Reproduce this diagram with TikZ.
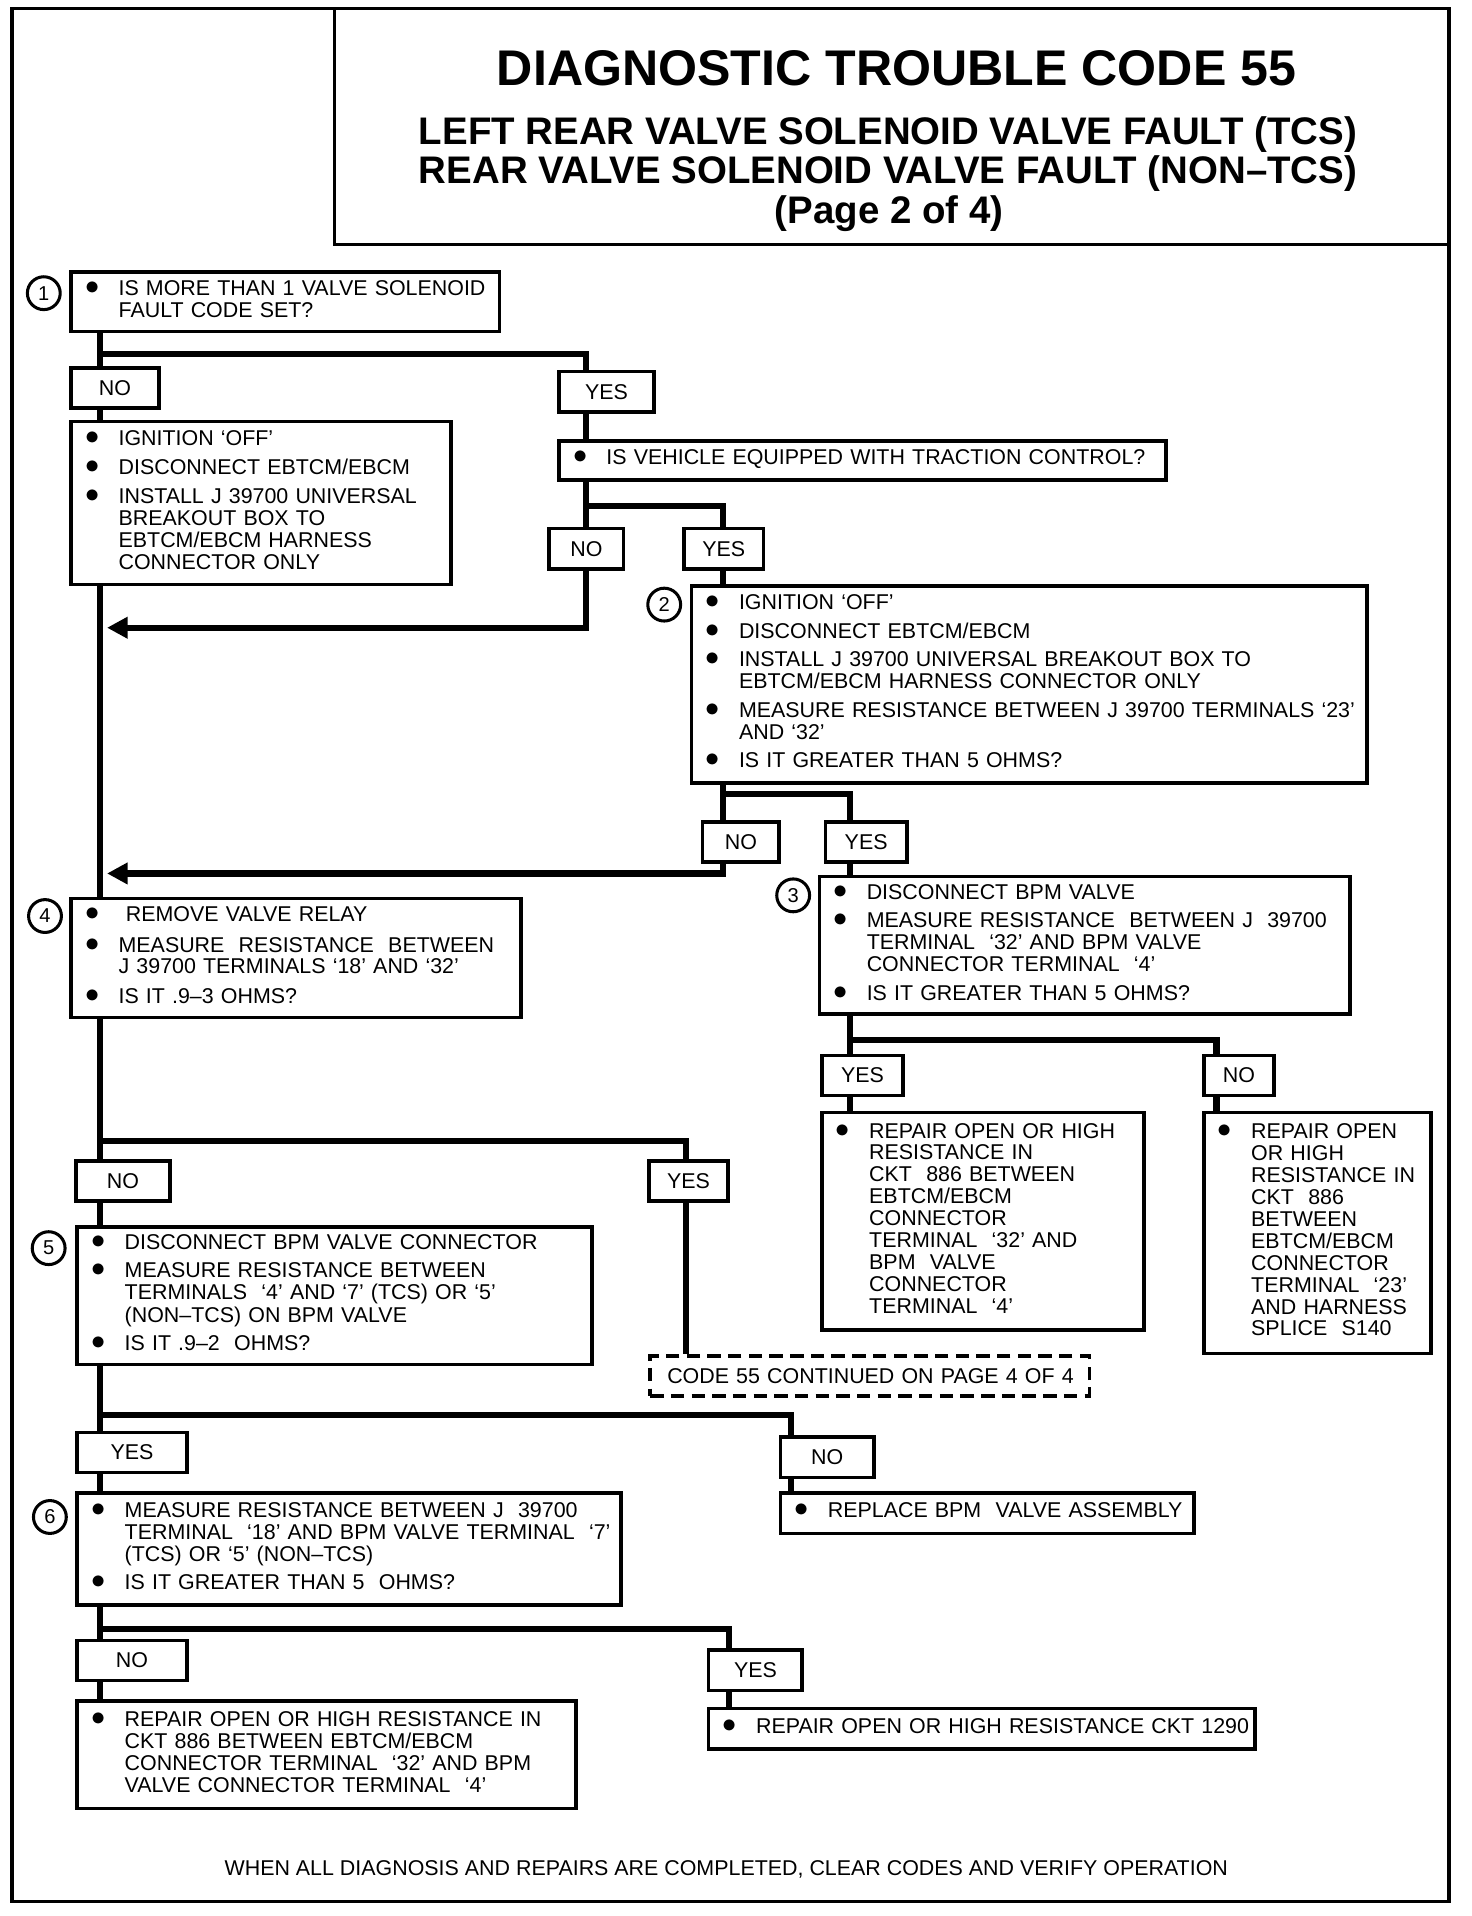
\documentclass[tikz,border=0pt]{standalone}
\usepackage{fontspec}
\setmainfont{Liberation Sans}
\usepackage{tikz}
\usetikzlibrary{positioning,arrows.meta}

\newlength{\bulw}
\setlength{\bulw}{26.3pt}
\newcommand{\bodyfont}{\fontsize{17.6}{18}\selectfont}
\newcommand{\titlefont}{\fontsize{41.2}{41}\selectfont\bfseries}
\newcommand{\subfont}{\fontsize{31.6}{32}\selectfont\bfseries}
\newcommand{\itm}{\makebox[\bulw][l]{\hspace{-1pt}\raisebox{0.8pt}{\scalebox{1.35}{$\bullet$}}}}
\newcommand{\stepitems}[1]{\begin{tabular}{@{}l@{}l@{}}#1\end{tabular}}

\begin{document}
\begin{tikzpicture}[x=1pt,y=-1pt,
	stepbox/.style={draw,line width=3pt,anchor=north west,inner xsep=12.7pt,inner ysep=0pt,align=left,font=\bodyfont},
	choice/.style={draw,line width=3pt,anchor=north west,inner sep=0pt,minimum height=33pt,font=\bodyfont},
	stepnum/.style={circle,draw,line width=2.5pt,minimum size=27pt,inner sep=0pt,font=\fontsize{16.5}{16}\selectfont},
	contbox/.style={draw,line width=3pt,dash pattern=on 11pt off 6pt,anchor=north west,inner xsep=14pt,inner ysep=0pt,minimum height=33pt,align=left,font=\bodyfont},
	conn/.style={line width=5pt},
	back/.style={conn,-{Triangle[length=17pt,width=17pt]}}]
	\useasboundingbox (0,0) rectangle (1210,1575);
	\draw[line width=3pt] (10,7) rectangle (1191,1563);
	\draw[line width=3pt] (275,7) rectangle (1191,201);

	\node[anchor=base,font=\titlefont] (title) at (737,70) {DIAGNOSTIC TROUBLE CODE 55};
	\node[anchor=base,font=\subfont] (sub1) at (730,119) {LEFT REAR VALVE SOLENOID VALVE FAULT (TCS)};
	\node[anchor=base,font=\subfont] (sub2) at (730,151) {REAR VALVE SOLENOID VALVE FAULT (NON--TCS)};
	\node[anchor=base,font=\subfont] (page) at (731,184) {(Page 2 of 4)};

	\node[stepbox,text width=326.6pt,minimum height=49pt] (q1) at (57,222) {\stepitems{\itm & IS MORE THAN 1 VALVE SOLENOID\\ & FAULT CODE SET?}};
	\node[stepnum] (c1) at (36,241) {1};
	\node[choice,minimum width=72pt] (no1) at (57,301) {NO};
	\node[choice,minimum width=78pt] (yes1) at (458,304) {YES};
	\node[stepbox,text width=286.6pt,minimum height=134pt] (ign1) at (57,345) {\stepitems{\itm & IGNITION `OFF'\\[5.5pt] \itm & DISCONNECT EBTCM/EBCM\\[5.5pt] \itm & INSTALL J 39700 UNIVERSAL\\ & BREAKOUT BOX TO\\ & EBTCM/EBCM HARNESS\\ & CONNECTOR ONLY}};
	\node[stepbox,text width=473.6pt,minimum height=32pt] (veh) at (458,361) {\stepitems{\itm & IS VEHICLE EQUIPPED WITH TRACTION CONTROL?}};
	\node[choice,minimum width=61pt] (no2) at (450,433) {NO};
	\node[choice,minimum width=65pt] (yes2) at (561,433) {YES};
	\node[stepbox,text width=529.6pt,minimum height=162pt] (q2) at (567,480) {\stepitems{\itm & IGNITION `OFF'\\[5.5pt] \itm & DISCONNECT EBTCM/EBCM\\[5.5pt] \itm & INSTALL J 39700 UNIVERSAL BREAKOUT BOX TO\\ & EBTCM/EBCM HARNESS CONNECTOR ONLY\\[5.5pt] \itm & MEASURE RESISTANCE BETWEEN J 39700 TERMINALS `23'\\ & AND `32'\\[5.5pt] \itm & IS IT GREATER THAN 5 OHMS?}};
	\node[stepnum] (c2) at (546,497) {2};
	\node[choice,minimum width=63pt] (no3) at (576,674) {NO};
	\node[choice,minimum width=67pt] (yes3) at (677,674) {YES};
	\node[stepbox,text width=410.6pt,minimum height=113pt] (q3) at (672,719) {\stepitems{\itm & DISCONNECT BPM VALVE\\[5.5pt] \itm & MEASURE RESISTANCE\ \ BETWEEN J\ \ 39700\\ & TERMINAL\ \ `32' AND BPM VALVE\\ & CONNECTOR TERMINAL\ \ `4'\\[5.5pt] \itm & IS IT GREATER THAN 5 OHMS?}};
	\node[stepnum] (c3) at (652,736) {3};
	\node[stepbox,text width=344.6pt,minimum height=98pt] (q4) at (57,737) {\stepitems{\itm & \hspace{6pt}REMOVE VALVE RELAY\\[7pt] \itm & MEASURE\ \ RESISTANCE\ \ BETWEEN\\ & J 39700 TERMINALS `18' AND `32'\\[6pt] \itm & IS IT .9--3 OHMS?}};
	\node[stepnum] (c4) at (37,753) {4};
	\node[choice,minimum width=67pt] (yes4) at (674,866) {YES};
	\node[choice,minimum width=58pt] (no4) at (988,866) {NO};
	\node[stepbox,text width=239.6pt,minimum height=179pt] (ra) at (674,913) {\stepitems{\itm & REPAIR OPEN OR HIGH\\ & RESISTANCE IN\\ & CKT\ \ 886 BETWEEN\\ & EBTCM/EBCM\\ & CONNECTOR\\ & TERMINAL\ \ `32' AND\\ & BPM\ \ VALVE\\ & CONNECTOR\\ & TERMINAL\ \ `4'}};
	\node[stepbox,text width=161.6pt,minimum height=198pt] (rb) at (988,913) {\stepitems{\itm & REPAIR OPEN\\ & OR HIGH\\ & RESISTANCE IN\\ & CKT\ \ 886\\ & BETWEEN\\ & EBTCM/EBCM\\ & CONNECTOR\\ & TERMINAL\ \ `23'\\ & AND HARNESS\\ & SPLICE\ \ S140}};
	\node[choice,minimum width=77pt] (no5) at (61,953) {NO};
	\node[choice,minimum width=65pt] (yes5) at (532,953) {YES};
	\node[stepbox,text width=397.6pt,minimum height=113pt] (q5) at (62,1007) {\stepitems{\itm & DISCONNECT BPM VALVE CONNECTOR\\[5.5pt] \itm & MEASURE RESISTANCE BETWEEN\\ & TERMINALS\ \ `4' AND `7' (TCS) OR `5'\\ & (NON--TCS) ON BPM VALVE\\[5.5pt] \itm & IS IT .9--2\ \ OHMS?}};
	\node[stepnum] (c5) at (40,1026) {5};
	\node[contbox,text width=333pt] (cont) at (533,1113) {\mbox{CODE 55 CONTINUED ON PAGE 4 OF 4}};
	\node[choice,minimum width=90pt] (yes6) at (62,1176) {YES};
	\node[choice,minimum width=77pt] (no6) at (640,1180) {NO};
	\node[stepbox,text width=314.6pt,minimum height=33pt] (rep) at (640,1226) {\stepitems{\itm & REPLACE BPM\ \ VALVE ASSEMBLY}};
	\node[stepbox,text width=421.6pt,minimum height=92pt] (q6) at (62,1226) {\stepitems{\itm & MEASURE RESISTANCE BETWEEN J\ \ 39700\\ & TERMINAL\ \ `18' AND BPM VALVE TERMINAL\ \ `7'\\ & (TCS) OR `5' (NON--TCS)\\[5.5pt] \itm & IS IT GREATER THAN 5\ \ OHMS?}};
	\node[stepnum] (c6) at (41,1247) {6};
	\node[choice,minimum width=90pt] (no7) at (62,1347) {NO};
	\node[choice,minimum width=77pt] (yes7) at (581,1355) {YES};
	\node[stepbox,text width=384.6pt,minimum height=88pt] (rc) at (62,1397) {\stepitems{\itm & REPAIR OPEN OR HIGH RESISTANCE IN\\ & CKT 886 BETWEEN EBTCM/EBCM\\ & CONNECTOR TERMINAL\ \ `32' AND BPM\\ & VALVE CONNECTOR TERMINAL\ \ `4'}};
	\node[stepbox,text width=423.6pt,minimum height=33pt] (rd) at (581,1403) {\stepitems{\itm & REPAIR OPEN OR HIGH RESISTANCE CKT 1290}};
	\node[anchor=base,font=\bodyfont] (foot) at (597,1542) {WHEN ALL DIAGNOSIS AND REPAIRS ARE COMPLETED, CLEAR CODES AND VERIFY OPERATION};

	\coordinate (j1) at (82,291);
	\coordinate (j2) at (482,416);
	\coordinate (a1) at (88,516);
	\coordinate (j3) at (594,653);
	\coordinate (a2) at (88,718);
	\coordinate (j4) at (699,855);
	\coordinate (j4b) at (1000,855);
	\coordinate (j5) at (82,938);
	\coordinate (j5b) at (564,938);
	\coordinate (j6) at (82,1163);
	\coordinate (j6b) at (650,1163);
	\coordinate (j7) at (82,1339);
	\coordinate (j7b) at (599,1339);

	\draw[conn] (q1.south -| j1) -- (no1.north -| j1);
	\draw[conn] (j1) -| (yes1.north -| j2);
	\draw[conn] (no1.south -| j1) -- (ign1.north -| j1);
	\draw[conn] (ign1.south -| j1) -- (q4.north -| j1);
	\draw[conn] (yes1.south -| j2) -- (veh.north -| j2);
	\draw[conn] (veh.south -| j2) -- (no2.north -| j2);
	\draw[conn] (j2) -| (yes2.north -| j3);
	\draw[back] (no2.south -| j2) |- (a1);
	\draw[conn] (yes2.south -| j3) -- (q2.north -| j3);
	\draw[conn] (q2.south -| j3) -- (no3.north -| j3);
	\draw[conn] (j3) -| (yes3.north -| j4);
	\draw[back] (no3.south -| j3) |- (a2);
	\draw[conn] (yes3.south -| j4) -- (q3.north -| j4);
	\draw[conn] (q3.south -| j4) -- (yes4.north -| j4);
	\draw[conn] (j4) -| (no4.north -| j4b);
	\draw[conn] (yes4.south -| j4) -- (ra.north -| j4);
	\draw[conn] (no4.south -| j4b) -- (rb.north -| j4b);
	\draw[conn] (q4.south -| j5) -- (no5.north -| j5);
	\draw[conn] (j5) -| (yes5.north -| j5b);
	\draw[conn] (yes5.south -| j5b) -- (cont.north -| j5b);
	\draw[conn] (no5.south -| j5) -- (q5.north -| j5);
	\draw[conn] (q5.south -| j6) -- (yes6.north -| j6);
	\draw[conn] (j6) -| (no6.north -| j6b);
	\draw[conn] (no6.south -| j6b) -- (rep.north -| j6b);
	\draw[conn] (yes6.south -| j6) -- (q6.north -| j6);
	\draw[conn] (q6.south -| j7) -- (no7.north -| j7);
	\draw[conn] (j7) -| (yes7.north -| j7b);
	\draw[conn] (yes7.south -| j7b) -- (rd.north -| j7b);
	\draw[conn] (no7.south -| j7) -- (rc.north -| j7);
\end{tikzpicture}
\end{document}
